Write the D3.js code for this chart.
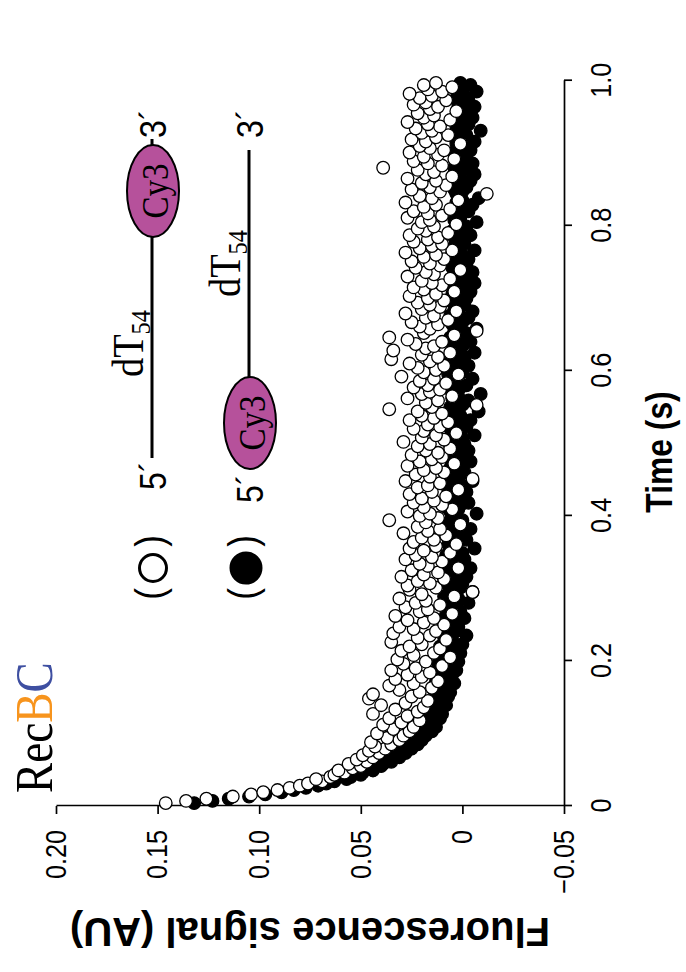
<!DOCTYPE html>
<html>
<head>
<meta charset="utf-8">
<script src="https://cdn.jsdelivr.net/npm/d3@7"></script>
<style>
  html, body { margin: 0; padding: 0; background: #fff; }
  svg { display: block; }
</style>
</head>
<body>
<svg id="chart" width="686" height="972"></svg>
<script>
// Stopped-flow traces of Cy3 fluorescence, sampled on a fixed time grid (s)
const sampleStart = 0.004;
const sampleStep = 0.003;

// (○) 5'-dT54-Cy3-3'   signal in AU
const openSignal = [
  .146,.136,.126,.113,.104,.098,.091,.085,.080,.076,
  .069,.072,.065,.063,.058,.061,.054,.050,.056,.047,
  .052,.044,.049,.041,.046,.038,.043,.035,.045,.031,
  .037,.029,.042,.026,.034,.024,.039,.030,.021,.036,
  .027,.044,.022,.033,.019,.040,.028,.017,.046,.025,
  .044,.021,.031,.015,.036,.024,.012,.033,.020,.027,
  .016,.035,.023,.010,.029,.018,.032,.006,.024,.014,
  .030,.011,.026,.020,.035,.008,.022,.016,.034,.013,
  .024,.031,.009,.019,.027,.014,.033,.005,.021,.017,
  .028,.011,.023,.018,.031,.004,.020,-.005,.026,.013,
  .027,.016,.022,.009,.030,.019,.012,.025,.002,.017,
  .021,.010,.028,.015,.023,.006,.019,.026,.013,.003,
  .024,.014,.020,.008,.029,.017,.011,.022,.001,.018,
  .036,.012,.021,.016,.027,.005,.019,.010,.024,.014,
  .020,.008,.026,.015,.002,.022,.017,.011,.028,-.005,
  .016,.023,.009,.019,.013,.027,.004,.021,.015,.010,
  .025,.012,.018,.006,.022,.016,.029,.009,.020,.013,
  .003,.019,.024,.011,.017,.007,.026,.014,.020,.010,
  .022,.036,.015,-.007,.018,.012,.027,.005,.020,.016,
  .011,.024,.017,.008,.021,.014,.030,.002,.019,.013,
  .022,.009,.026,.016,.035,.012,.020,.006,.034,.018,
  .014,.023,.010,.027,.036,.004,.019,-.007,.016,.021,
  .012,.025,.007,.018,.014,.028,.003,.020,.011,.016,
  .022,.009,.017,.026,.013,.004,.019,.024,.010,.015,
  .020,.006,.027,.014,.018,.001,.023,.011,.016,.025,
  .009,.019,.013,.028,.005,.021,.015,.010,.024,.017,
  .012,.026,.007,.018,.022,.014,.003,.020,.016,.027,
  .010,.017,.024,.006,.019,.013,.028,.002,.015,.021,
  -.012,.011,.025,.016,.008,.020,.013,.027,.005,.018,
  .014,.022,.039,.010,.017,.024,.004,.019,.012,.026,
  .009,.016,.021,.001,.018,.025,.013,.007,.020,.015,
  .023,.011,.017,.027,.006,.019,.014,.022,.003,.016,
  .012,.024,.018,.008,.021,.015,.026,.010,.017,.005,
  .019,.013
];

// (●) 5'-Cy3-dT54-3'   signal in AU
const filledSignal = [
  .132,.123,.115,.105,.097,.089,.083,.077,.071,.067,
  .063,.057,.055,.050,.049,.044,.045,.040,.039,.035,
  .036,.031,.033,.028,.030,.025,.027,.022,.026,.020,
  .023,.018,.021,.015,.019,.013,.020,.014,.017,.011,
  .016,.010,.018,.012,.014,.008,.015,.011,.013,.007,
  .012,.006,.014,.009,.011,.004,.013,.008,.010,.005,
  .011,.003,.009,.007,.012,.002,.008,.006,.010,.001,
  .008,.004,.011,.000,.007,.005,.009,-.002,.006,.003,
  .009,.002,.006,.004,.010,-.001,.005,.008,.001,.007,
  .003,.008,-.003,.006,.002,.009,.004,-.005,.005,.001,
  .007,.000,.004,.009,-.002,.005,.003,.008,-.004,.006,
  .002,.006,-.001,.004,.008,.000,.005,-.006,.003,.007,
  .004,-.002,.006,.001,.009,.003,-.004,.005,.002,.007,
  .000,.005,.003,-.007,.006,.002,.008,.001,-.003,.004,
  .006,.001,.004,-.002,.007,.003,.000,.005,-.005,.002,
  .004,.008,-.001,.003,.006,.000,.005,-.004,.002,.007,
  .001,.005,-.003,.004,.006,-.001,.003,.007,.000,-.006,
  .005,.002,.006,-.002,.003,.008,-.004,.004,.001,.005,
  -.008,.003,.006,.000,.004,-.003,.005,.002,-.009,.004,
  .006,.001,-.002,.005,.003,-.005,.004,.007,.000,.002,
  .004,-.003,.005,.001,.006,-.001,.003,-.006,.004,.002,
  .000,.005,-.004,.003,.006,.001,-.002,.004,-.007,.003,
  .005,.000,.003,-.003,.006,.002,-.005,.004,.001,-.001,
  .003,.006,-.002,.002,.005,-.004,.003,.000,.004,-.006,
  .002,-.001,.004,.001,-.005,.003,.005,-.002,.002,.004,
  -.003,.003,.000,.005,-.006,.002,.004,-.001,.003,.001,
  .004,-.004,.002,.005,.000,-.002,.003,-.007,.004,.001,
  .001,.003,-.003,.004,.002,-.005,.003,.000,-.008,.002,
  .003,.000,.004,-.002,.002,.005,-.004,.001,.003,-.006,
  .002,-.003,.004,.001,-.005,.003,.000,.002,-.002,.004,
  -.004,.002,.000,.003,-.006,.001,.004,-.002,.002,-.009,
  .001,.003,-.003,.002,.000,-.005,.003,.001,-.002,.002,
  -.006,.002,.000,-.003,.003,-.001,.001,-.007,.002,.000,
  -.004,.001
];

const timeTicks = [0, 0.2, 0.4, 0.6, 0.8, 1.0];
const timeTickLabels = ["0", "0.2", "0.4", "0.6", "0.8", "1.0"];
const signalTicks = [-0.05, 0, 0.05, 0.10, 0.15, 0.20];
const signalTickLabels = ["\u22120.05", "0", "0.05", "0.10", "0.15", "0.20"];

const SANS = "'Liberation Sans', Arial, Helvetica, sans-serif";
const SERIF = "'Liberation Serif', 'Times New Roman', Times, serif";
const SQUEEZE = 0.87;   // narrow set type

// The figure is laid out in a 972 x 686 landscape frame and turned
// a quarter-turn counter-clockwise onto the portrait page.
const svg = d3.select("#chart");
const g = svg.append("g").attr("transform", "translate(0,972) rotate(-90)");

const x = d3.scaleLinear().domain([0, 1]).range([166, 891.3]);
const y = d3.scaleLinear().domain([-0.05, 0.20]).range([564, 56]);

function squeezeTicks(sel) {
  sel.selectAll(".tick text").each(function () {
    const w = this.getComputedTextLength();
    d3.select(this).attr("textLength", w * SQUEEZE).attr("lengthAdjust", "spacingAndGlyphs");
  });
}

function styleAxis(sel) {
  sel.selectAll("path, line").attr("stroke", "#000").attr("stroke-width", 1.7);
  sel.selectAll("text").attr("font-family", SANS).attr("font-size", 29).attr("fill", "#000");
}

// time axis
const xAxis = g.append("g")
  .attr("transform", `translate(0,${y(-0.05)})`)
  .call(d3.axisBottom(x).tickValues(timeTicks)
    .tickFormat((d, i) => timeTickLabels[i])
    .tickSize(8).tickSizeOuter(0).tickPadding(18));
styleAxis(xAxis);
squeezeTicks(xAxis);

// signal axis
const yAxis = g.append("g")
  .attr("transform", `translate(${x(0)},0)`)
  .call(d3.axisLeft(y).tickValues(signalTicks)
    .tickFormat((d, i) => signalTickLabels[i])
    .tickSize(8).tickSizeOuter(0).tickPadding(16));
styleAxis(yAxis);
squeezeTicks(yAxis);

// data points: filled trace underneath, open trace on top
const toPoints = arr => arr.map((v, i) => ({ t: sampleStart + i * sampleStep, v }));
const R = 6.3;

g.append("g").selectAll("circle")
  .data(toPoints(filledSignal)).join("circle")
  .attr("cx", d => x(d.t)).attr("cy", d => y(d.v)).attr("r", R)
  .attr("fill", "#000").attr("stroke", "#000").attr("stroke-width", 1.3);

g.append("g").selectAll("circle")
  .data(toPoints(openSignal)).join("circle")
  .attr("cx", d => x(d.t)).attr("cy", d => y(d.v)).attr("r", R)
  .attr("fill", "#fff").attr("stroke", "#000").attr("stroke-width", 1.3);

// text helper with narrow set
function label(parent, px, py, parts, opts) {
  const o = Object.assign({ size: 30, family: SANS, weight: "normal", anchor: "start", squeeze: SQUEEZE }, opts);
  const holder = parent.append("g").attr("transform", `translate(${px},${py}) scale(${o.squeeze},1)`);
  const t = holder.append("text")
    .attr("font-family", o.family).attr("font-size", o.size)
    .attr("font-weight", o.weight).attr("text-anchor", o.anchor).attr("fill", "#000");
  parts.forEach(p => {
    const s = t.append("tspan").text(p.text);
    if (p.fill) s.attr("fill", p.fill);
    if (p.size) s.attr("font-size", p.size);
    if (p.dy) s.attr("dy", p.dy);
  });
  return t;
}

// axis titles
label(g, 520, 672, [{ text: "Time (s)" }], { size: 37, weight: "bold", anchor: "middle", squeeze: 0.86 });
g.append("text")
  .attr("transform", `translate(54,${(y(-0.05) + y(0.20)) / 2}) rotate(-90)`)
  .attr("text-anchor", "middle").attr("font-family", SANS)
  .attr("font-size", 40).attr("font-weight", "bold").attr("fill", "#000")
  .text("Fluorescence signal (AU)");

// enzyme name
label(g, 179, 52, [
  { text: "Rec" },
  { text: "B", fill: "#F7941D" },
  { text: "C", fill: "#3E4FA1" }
], { size: 52, family: SERIF });

// substrate legend
const legend = g.append("g");
const CY3 = "#B6519B";
const SYM_X = 404;

function symbol(rowY, filled) {
  label(legend, SYM_X - 26, rowY + 11, [{ text: "(" }], { size: 40, anchor: "middle" });
  label(legend, SYM_X + 27, rowY + 11, [{ text: ")" }], { size: 40, anchor: "middle" });
  legend.append("circle").attr("cx", SYM_X).attr("cy", rowY)
    .attr("r", filled ? 15 : 13.5)
    .attr("fill", filled ? "#000" : "#fff").attr("stroke", "#000").attr("stroke-width", 3);
}

function strand(rowY, lineFrom, lineTo, fiveX, dyeX, dtX) {
  legend.append("line").attr("x1", lineFrom).attr("x2", lineTo)
    .attr("y1", rowY).attr("y2", rowY).attr("stroke", "#000").attr("stroke-width", 3);
  label(legend, fiveX, rowY + 14, [{ text: "5\u00B4" }], { size: 37 });
  label(legend, 834, rowY + 14, [{ text: "3\u00B4" }], { size: 37 });
  label(legend, dtX, rowY - 9, [{ text: "dT" }, { text: "54", size: 28, dy: 7 }], { size: 44, family: SERIF });
  legend.append("ellipse").attr("cx", dyeX).attr("cy", rowY + 1).attr("rx", 46).attr("ry", 26)
    .attr("fill", CY3).attr("stroke", "#000").attr("stroke-width", 2);
  label(legend, dyeX, rowY + 16, [{ text: "Cy3" }], { size: 38, family: SERIF, anchor: "middle" });
}

// (○): dye at the 3' end
symbol(153, false);
strand(152, 514, 833, 482, 781, 595);
// (●): dye at the 5' end
symbol(246, true);
strand(249, 547, 822, 469, 549, 675);
</script>
</body>
</html>
